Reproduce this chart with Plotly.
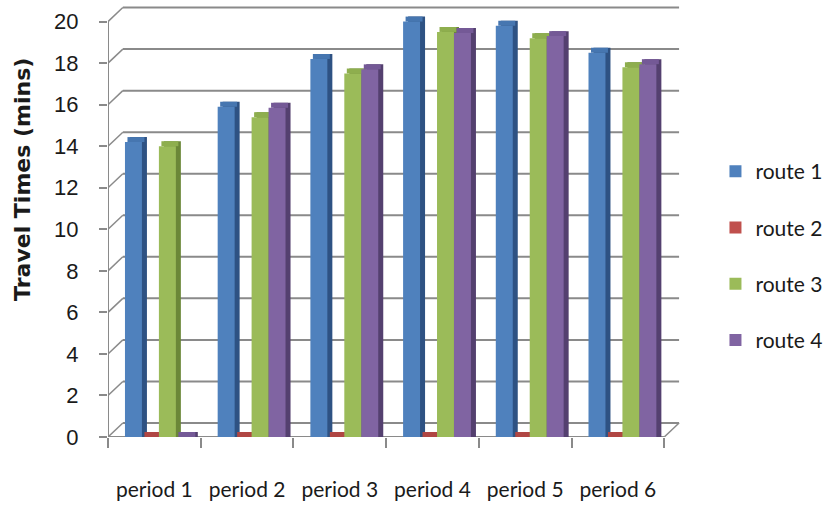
import plotly.graph_objects as go

# ---- data -------------------------------------------------------------
periods = ["period 1", "period 2", "period 3", "period 4", "period 5", "period 6"]
routes = ["route 1", "route 2", "route 3", "route 4"]
route1 = [14.2, 15.9, 18.2, 20.0, 19.8, 18.5]
route2 = [0, 0, 0, 0, 0, 0]
route3 = [14.0, 15.4, 17.5, 19.5, 19.2, 17.8]
route4 = [0, 15.85, 17.7, 19.45, 19.3, 17.95]
y_ticks = list(range(0, 21, 2))

series = [route1, route2, route3, route4]

# ---- styling ----------------------------------------------------------
front_colors = ["#4F81BD", "#C0504D", "#9BBB59", "#8064A2"]
top_colors = ["#4676B0", "#B04643", "#8EAE4E", "#745996"]
side_colors = ["#2E5283", "#8C3432", "#6B8738", "#54406F"]

bar_w = 0.183          # width of one column, in category units
group_start = -0.317   # left edge of the first column relative to category centre
side_dx = 0.054        # horizontal depth of a column's side face
side_dy = 0.24         # vertical depth of a column's top face
wall_dx = 0.16         # horizontal depth of the back wall
wall_dy = 0.675        # vertical depth of the back wall

fig = go.Figure()

# side faces (drawn first so the front faces cover them)
for i, (name, vals) in enumerate(zip(routes, series)):
    fig.add_trace(go.Bar(
        x=periods, y=[v + side_dy for v in vals], base=0,
        width=bar_w, offset=group_start + i * bar_w + side_dx,
        marker=dict(color=side_colors[i], line=dict(width=0)),
        showlegend=False, hoverinfo="skip",
    ))

# top faces
for i, (name, vals) in enumerate(zip(routes, series)):
    fig.add_trace(go.Bar(
        x=periods, y=[side_dy] * len(vals), base=vals,
        width=bar_w, offset=group_start + i * bar_w + side_dx / 2,
        marker=dict(color=top_colors[i], line=dict(width=0)),
        showlegend=False, hoverinfo="skip",
    ))

# front faces
for i, (name, vals) in enumerate(zip(routes, series)):
    fig.add_trace(go.Bar(
        x=periods, y=vals, name=name, legendgroup=name,
        width=bar_w, offset=group_start + i * bar_w,
        marker=dict(color=front_colors[i], line=dict(width=0)),
    ))

# back wall gridlines, side wall connectors and floor outline
grid_col = "#8A8A8A"
shapes = []
for t in y_ticks:
    shapes.append(dict(type="line", xref="x", yref="y", layer="below",
                       x0=-0.5 + wall_dx, x1=5.5 + wall_dx, y0=t + wall_dy, y1=t + wall_dy,
                       line=dict(color=grid_col, width=2)))
    shapes.append(dict(type="line", xref="x", yref="y", layer="below",
                       x0=-0.5, x1=-0.5 + wall_dx, y0=t, y1=t + wall_dy,
                       line=dict(color=grid_col, width=1.5)))
shapes.append(dict(type="line", xref="x", yref="y", layer="below",
                   x0=-0.5, x1=5.5, y0=0, y1=0, line=dict(color=grid_col, width=2)))
shapes.append(dict(type="line", xref="x", yref="y", layer="below",
                   x0=5.5, x1=5.5 + wall_dx, y0=0, y1=wall_dy, line=dict(color=grid_col, width=1.5)))
shapes.append(dict(type="line", xref="x", yref="y", layer="below",
                   x0=-0.5, x1=-0.5, y0=0, y1=20, line=dict(color=grid_col, width=2)))

fig.update_layout(
    width=826, height=510,
    margin=dict(l=108, r=146, t=6, b=73, autoexpand=False),
    paper_bgcolor="white", plot_bgcolor="white",
    barmode="overlay",
    shapes=shapes,
    showlegend=True,
    legend=dict(
        x=1.062, xanchor="left", y=0.42, yanchor="middle",
        font=dict(family="Lato, Liberation Sans, sans-serif", size=21, color="#1a1a1a"),
        tracegroupgap=26, itemwidth=30,
        bgcolor="rgba(0,0,0,0)",
    ),
    xaxis=dict(
        type="category", categoryorder="array", categoryarray=periods,
        range=[-0.5, 5.5 + wall_dx + 0.01],
        showgrid=False, zeroline=False, showline=False,
        tickson="boundaries", ticks="outside", ticklen=10, tickwidth=2, tickcolor=grid_col,
        ticklabelstandoff=38,
        tickfont=dict(family="Lato, Liberation Sans, sans-serif", size=21, color="#1a1a1a"),
    ),
    yaxis=dict(
        range=[0, 20.75],
        tickvals=y_ticks,
        showgrid=False, zeroline=False, showline=False,
        ticks="outside", ticklen=8, tickwidth=2, tickcolor=grid_col,
        ticklabelstandoff=16,
        tickfont=dict(family="Liberation Sans Narrow, Liberation Sans, sans-serif", size=22, color="#1a1a1a"),
    ),
    annotations=[dict(
        text="<b>Travel Times (mins)</b>", textangle=-90,
        xref="paper", yref="paper", x=-0.150, y=0.597,
        xanchor="center", yanchor="middle", showarrow=False,
        font=dict(family="DejaVu Sans, sans-serif", size=22, color="#1a1a1a"),
    )],
)

fig.write_html("out.html")
